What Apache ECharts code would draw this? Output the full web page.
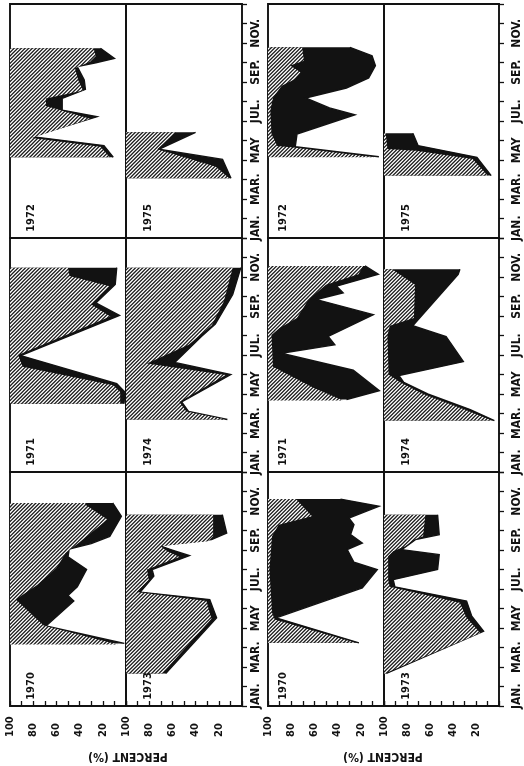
<!DOCTYPE html>
<html><head><meta charset="utf-8">
<script src="https://cdn.jsdelivr.net/npm/echarts/dist/echarts.min.js"></script>
<style>html,body{margin:0;padding:0;background:#fff}#c{width:524px;height:766px}</style>
</head><body><div id="c"></div>
<script>
// ---------------- tick / label values ----------------
const monthLabels  = ['JAN.','MAR.','MAY','JUL.','SEP.','NOV.'];
const monthLabelAt = [0.5, 2.5, 4.5, 6.5, 8.5, 10.5];   // mid-month, months counted from Jan 1
const pctLabels    = [100, 80, 60, 40, 20];
const axisTitle    = 'PERCENT (%)';
const rowYears     = [[1972, 1975], [1971, 1974], [1970, 1973]];  // rows top->bottom, [left half, right half]

// ---------------- data: [month, percent] ----------------
// edge1 = white / black boundary, edge2 = black / hatched boundary
// Block A (left)
const A1970_edge1 = [[3.21,1.4],[4.10,69],[5.38,45],[5.67,50],[6.11,42],[7.0,34],[7.65,50],[8.05,49],[8.33,30],[8.70,14],[9.73,4],[10.41,11.5]];
const A1970_edge2 = [[3.16,7],[4.13,71],[5.46,95],[6.23,76],[7.08,60],[7.85,52],[8.45,39],[9.56,16],[10.32,35],[10.41,35]];
const A1971_edge1 = [[3.50,1.7],[4.10,1],[4.53,8],[5.97,90.7],[8.03,5.6],[8.67,26],[9.62,9.3],[10.48,8]];
const A1971_edge2 = [[3.50,5],[4.10,5],[4.45,11],[5.40,89],[6.0,93],[7.98,13.5],[8.59,30],[9.53,14],[10.05,48.6],[10.48,50]];
const A1972_edge1 = [[4.14,11],[4.74,19],[5.20,81],[6.22,25],[6.56,55],[7.16,55],[7.62,35],[8.10,36],[8.79,42],[8.99,26],[9.21,10],[9.73,22]];
const A1972_edge2 = [[4.14,14],[4.68,22],[5.13,81],[6.12,31],[6.77,69],[7.16,69],[7.56,37],[8.07,41],[8.70,44],[9.04,31],[9.33,26],[9.73,28]];
const A1973_edge1 = [[1.67,65.8],[4.52,21.9],[5.46,27.8],[5.84,87.7],[6.66,76],[7.0,77.5],[7.71,45.3],[8.02,61.4],[8.23,71.6],[8.53,26.3],[8.87,13.2],[9.81,17]];
const A1973_edge2 = [[1.67,68.7],[4.47,26.3],[5.38,30.7],[5.84,90.6],[6.48,80.4],[7.0,81.9],[7.64,54],[7.94,64.3],[8.19,70.2],[8.45,29.2],[8.70,24.9],[9.81,24.9]];
const A1974_edge1 = [[2.69,12.6],[3.10,46],[3.59,52],[5.0,9.7],[5.62,58],[6.95,35],[7.59,23],[9.10,8],[10.48,1]];
const A1974_edge2 = [[2.69,14],[3.10,48],[3.59,54],[4.97,14],[5.57,82],[6.52,46],[7.52,26],[8.76,15.6],[10.48,8]];
const A1975_edge1 = [[3.06,9.5],[4.03,16.8],[4.55,71.7],[5.42,40]];
const A1975_edge2 = [[3.06,11],[3.66,22.5],[4.55,73],[5.42,57]];
// Block B (right)
const B1970_edge1 = [[3.24,21.6],[4.52,93],[6.06,18.7],[7.0,5.8],[7.37,25.9],[8.02,31.7],[8.36,18.7],[8.79,28.8],[9.30,25.9],[9.64,30.3],[10.24,4.3],[10.61,37.5]];
const B1970_edge2 = [[3.24,24.5],[4.44,94.2],[4.78,96.5],[7.0,98.8],[8.70,96.5],[9.30,90.8],[9.73,62],[10.61,76]];
const B1971_edge1 = [[3.72,32.3],[4.17,4],[5.22,26.5],[6.09,88.5],[6.52,42.4],[6.95,48.1],[8.07,9.2],[8.84,58.2],[9.19,35.2],[9.53,40.9],[10.14,4.9],[10.57,16.4]];
const B1971_edge2 = [[3.67,35],[4.3,60],[5.40,95.7],[7.03,97],[7.38,90],[7.90,75],[8.84,65],[9.6,50],[10.14,22],[10.57,18]];
const B1972_edge1 = [[4.17,4.4],[4.68,76.5],[5.33,75],[6.32,25],[6.67,47],[7.18,67.6],[7.69,32.4],[8.21,13.2],[8.84,7.4],[9.35,10.3],[9.78,29.4]];
const B1972_edge2 = [[4.14,8],[4.64,78],[4.72,92],[5.33,97],[6.53,98],[7.21,95.6],[7.81,88.2],[8.15,76.5],[8.50,72],[8.84,80.9],[9.09,69],[9.78,70.6]];
const B1973_edge1 = [[1.67,97.9],[3.84,13.4],[4.61,23.7],[5.38,28.2],[6.11,90.5],[6.48,92],[7.0,53.4],[7.76,52],[8.02,84.6],[8.53,72.7],[8.79,52],[9.81,53.4]];
const B1973_edge2 = [[1.67,99.4],[3.75,16.3],[4.52,28.2],[5.29,34.1],[6.11,95],[6.48,96.4],[7.68,96.4],[7.94,92],[8.19,81.6],[8.53,74],[8.70,66],[9.81,64]];
const B1974_edge1 = [[2.64,4],[3.2,25],[4.0,62],[4.6,82.8],[4.95,87],[5.66,31],[6.95,46],[7.5,75],[10.14,35.5],[10.40,34]];
const B1974_edge2 = [[2.64,6],[3.2,30],[4.0,66],[4.6,86],[5.0,96],[7.0,97],[7.5,95],[7.9,74],[9.6,73],[10.40,93]];
const B1975_edge1 = [[3.20,6.8],[4.14,19.2],[4.74,70.4],[5.37,74.9]];
const B1975_edge2 = [[3.20,9.8],[4.05,23],[4.48,72],[4.56,97],[5.37,98.5]];

const panelData = {
  A: {1970:[A1970_edge1,A1970_edge2],1971:[A1971_edge1,A1971_edge2],1972:[A1972_edge1,A1972_edge2],
      1973:[A1973_edge1,A1973_edge2],1974:[A1974_edge1,A1974_edge2],1975:[A1975_edge1,A1975_edge2]},
  B: {1970:[B1970_edge1,B1970_edge2],1971:[B1971_edge1,B1971_edge2],1972:[B1972_edge1,B1972_edge2],
      1973:[B1973_edge1,B1973_edge2],1974:[B1974_edge1,B1974_edge2],1975:[B1975_edge1,B1975_edge2]}
};

// ---------------- layout / style ----------------
const INK = '#121212';
const FONT = "'Liberation Sans Narrow','DejaVu Sans Condensed','Liberation Sans',sans-serif";
const blocks = [
  {key:'A', xs:[10,126,242], monthMargin:8,  yearDx:[21,22], titleX:128},
  {key:'B', xs:[268,384,499], monthMargin:12, yearDx:[15,22], titleX:383}
];
const rowYs = [4,238,472,706];

function makeHatch(){
  // 45-degree "/" hatch, 3 lines per 11 px tile (spacing ~3.7 px)
  const s = 11, n = 3, c = document.createElement('canvas');
  c.width = s; c.height = s;
  const g = c.getContext('2d');
  g.fillStyle = '#fff'; g.fillRect(0,0,s,s);
  g.strokeStyle = '#1a1a1a'; g.lineWidth = 1.3;
  g.beginPath();
  for (let j = -1; j <= 2*n + 1; j++){
    const k = j * s / n;
    g.moveTo(k + 2, -2); g.lineTo(k - s - 2, s + 2);
  }
  g.stroke();
  return c;
}
const hatchFill = {image: makeHatch(), repeat: 'repeat'};

function areaSeries(gi, yi, pts, fill, outline){
  return {
    type:'custom', coordinateSystem:'cartesian2d', xAxisIndex:gi, yAxisIndex:yi,
    clip:true, silent:true, animation:false,
    data: pts.map(p => [p[1], p[0]]),
    encode:{x:0, y:1},
    renderItem: function(params, api){
      if (params.dataIndex !== 0) return null;
      const line = pts.map(p => api.coord([p[1], p[0]]));
      const poly = [api.coord([100, pts[0][0]])].concat(line, [api.coord([100, pts[pts.length-1][0]])]);
      const children = [{type:'polygon', shape:{points:poly}, style:{fill:fill, stroke:null}}];
      if (outline) children.push({type:'polyline', shape:{points:line}, style:{fill:null, stroke:INK, lineWidth:1.4}});
      return {type:'group', children:children};
    }
  };
}

const grids = [], xAxes = [], yAxes = [], series = [], graphics = [];
blocks.forEach(b => {
  for (let r = 0; r < 3; r++){
    for (let h = 0; h < 2; h++){
      const gi = grids.length;
      const left = b.xs[h], right = b.xs[h+1], top = rowYs[r], bottom = rowYs[r+1];
      const isBottom = r === 2, isRight = h === 1;
      grids.push({left:left, top:top, width:right-left, height:bottom-top, show:true,
                  borderColor:INK, borderWidth:1.9, backgroundColor:'rgba(0,0,0,0)'});
      xAxes.push({gridIndex:gi, type:'value', min:0, max:100, interval:10, inverse:true, position:'bottom',
        axisLine:{show:false}, splitLine:{show:false},
        axisTick:{show:isBottom, inside:true, length:5, lineStyle:{color:INK, width:1.3}},
        axisLabel:{show:isBottom, rotate:90, align:'left', verticalAlign:'middle', margin:31,
          color:INK, fontFamily:FONT, fontWeight:'bold', fontSize:11,
          formatter: v => pctLabels.indexOf(v) >= 0 ? String(v) : ''}});
      const yi = yAxes.length;
      yAxes.push({gridIndex:gi, type:'value', min:0, max:12, interval:1, position:'right',
        axisLine:{show:false}, splitLine:{show:false},
        axisTick:{show:isRight, inside:false, length:5, lineStyle:{color:INK, width:1.3}},
        axisLabel:{show:false}});
      if (isRight){
        yAxes.push({gridIndex:gi, type:'value', min:0, max:12, interval:0.5, position:'right',
          axisLine:{show:false}, splitLine:{show:false}, axisTick:{show:false},
          axisLabel:{show:true, rotate:90, margin:b.monthMargin, color:INK, fontFamily:FONT,
            fontWeight:'bold', fontSize:12, align:'center', verticalAlign:'top',
            formatter: v => { const i = monthLabelAt.indexOf(v); return i >= 0 ? monthLabels[i] : ''; }}});
      }
      const yr = rowYears[r][h];
      const d = panelData[b.key][yr];
      series.push(areaSeries(gi, yi, d[0], INK, true));
      series.push(areaSeries(gi, yi, d[1], hatchFill, false));
      graphics.push({type:'text', x:left + b.yearDx[h], y:bottom - 20, rotation:Math.PI/2, z:100,
        style:{text:String(yr), fill:INK, font:'bold 11px ' + FONT, textAlign:'center', textVerticalAlign:'middle',
               align:'center', verticalAlign:'middle'}});
    }
  }
  graphics.push({type:'text', x:b.titleX, y:756, rotation:Math.PI, z:100,
    style:{text:axisTitle, fill:INK, font:'bold 12px ' + FONT, textAlign:'center', textVerticalAlign:'middle',
           align:'center', verticalAlign:'middle'}});
});

const chart = echarts.init(document.getElementById('c'), null, {renderer:'canvas', width:524, height:766});
chart.setOption({
  backgroundColor:'#fff', animation:false,
  grid:grids, xAxis:xAxes, yAxis:yAxes, series:series, graphic:{elements:graphics}
});
</script></body></html>
